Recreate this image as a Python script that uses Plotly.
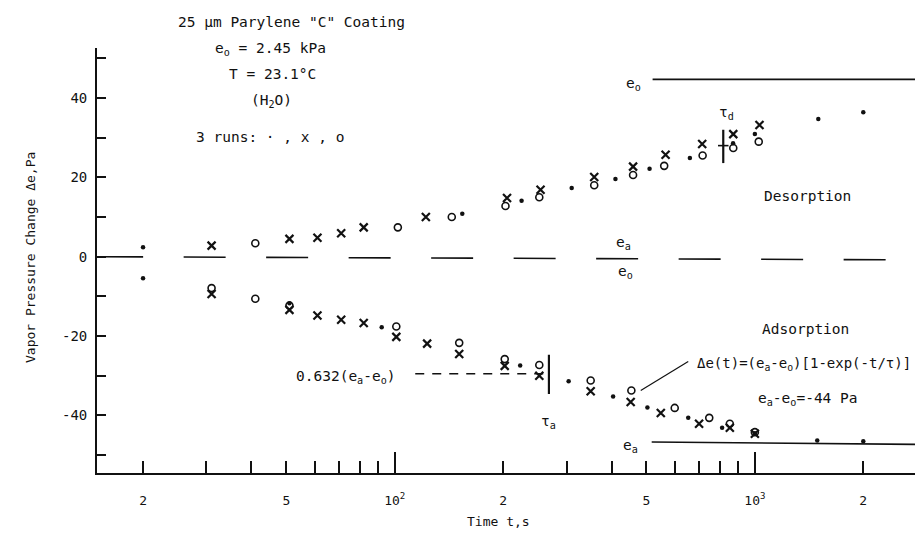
import numpy as np
import plotly.graph_objects as go

# ---------------- data ----------------
# Desorption runs (Delta e, Pa) vs time t (s)
des_dot_t = [20, 154, 225, 310, 410, 510, 660, 870, 1000, 1500, 2000]
des_dot_v = [2.4, 10.8, 14.1, 17.3, 19.6, 22.2, 24.9, 28.6, 30.9, 34.7, 36.4]
des_x_t = [31, 51, 61, 71, 82, 122, 205, 254, 358, 459, 565, 714, 871, 1030]
des_x_v = [2.8, 4.5, 4.8, 5.9, 7.4, 10.0, 14.8, 16.9, 20.1, 22.7, 25.7, 28.4, 30.9, 33.2]
des_o_t = [41, 102, 144, 203, 252, 358, 459, 560, 716, 871, 1025]
des_o_v = [3.4, 7.4, 10.0, 12.8, 15.0, 18.0, 20.6, 22.9, 25.5, 27.4, 29.0]

# Adsorption runs
ads_dot_t = [20, 51, 92, 223, 304, 404, 503, 653, 811, 1000, 1490, 2000]
ads_dot_v = [-5.4, -11.7, -17.8, -27.4, -31.4, -35.2, -38.0, -40.6, -43.1, -44.5, -46.3, -46.5]
ads_x_t = [31, 51, 61, 71, 82, 101, 123, 151, 202, 252, 350, 452, 548, 700, 852, 1000]
ads_x_v = [-9.4, -13.4, -14.8, -15.9, -16.7, -20.2, -21.9, -24.5, -27.5, -30.0, -33.9, -36.6, -39.4, -42.1, -43.1, -44.6]
ads_o_t = [31, 41, 51, 101, 151, 202, 252, 350, 454, 599, 747, 852, 1000]
ads_o_v = [-7.9, -10.6, -12.3, -17.6, -21.7, -25.8, -27.3, -31.2, -33.7, -38.1, -40.6, -42.1, -44.2]

# Reference levels
eo_t = [520, 3000]
eo_v = [44.7, 44.7]
ea_t = [517, 3000]
ea_v = [-46.7, -47.3]
zero_t = [15.3, 3000]
zero_v = [0.0, -0.8]
frac_t = [114, 268]          # 0.632(ea-eo) dashed guide
frac_v = [-29.5, -29.5]
tau_a_t = [268, 268]
tau_a_v = [-24.7, -34.6]
tau_d_t = [817, 817]
tau_d_v = [23.6, 32.0]
tau_d_bar_t = [790, 845]
tau_d_bar_v = [28.0, 28.0]
leader_t = [482, 653]
leader_v = [-33.7, -26.4]

# axis ticks
x_tickvals = [20, 30, 40, 50, 60, 70, 80, 90, 100, 200, 300, 400, 500, 600, 700, 800, 900, 1000, 2000, 3000]
x_ticktext = ["2", "", "", "5", "", "", "", "", "10<sup>2</sup>", "2", "", "", "5", "", "", "", "", "10<sup>3</sup>", "2", ""]
x_major = [100, 1000]
y_tickvals = [-50, -40, -30, -20, -10, 0, 10, 20, 30, 40, 50]
y_ticktext = ["", "-40", "", "-20", "", "0", "", "20", "", "40", ""]

# ---------------- figure ----------------
FONT = "DejaVu Sans Mono"
INK = "#111111"
OFF = 8                       # page body margin
W, H = 923 - OFF, 536 - OFF
L, R, T, B = 97 - OFF, 0, 48 - OFF, 536 - 473

fig = go.Figure()

def line(t, v, width=1.6, dash="solid"):
    fig.add_trace(go.Scatter(x=t, y=v, mode="lines", line=dict(color=INK, width=width, dash=dash),
                             hoverinfo="skip", showlegend=False))

line(zero_t, zero_v, 1.6, "42px,40.5px")
line(eo_t, eo_v, 1.6)
line(ea_t, ea_v, 1.6)
line(frac_t, frac_v, 1.4, "9px,8px")
line(tau_a_t, tau_a_v, 2.2)
line(tau_d_t, tau_d_v, 2.2)
line(tau_d_bar_t, tau_d_bar_v, 1.6)
line(leader_t, leader_v, 1.2)

def pts(t, v, symbol, size, lw):
    fig.add_trace(go.Scatter(x=t, y=v, mode="markers",
                             marker=dict(symbol=symbol, size=size, color=INK,
                                         line=dict(color=INK, width=lw)),
                             showlegend=False))

for t, v in [(des_dot_t, des_dot_v), (ads_dot_t, ads_dot_v)]:
    pts(t, v, "circle", 4.5, 0)
for t, v in [(des_x_t, des_x_v), (ads_x_t, ads_x_v)]:
    pts(t, v, "x-thin", 8, 2.2)
for t, v in [(des_o_t, des_o_v), (ads_o_t, ads_o_v)]:
    pts(t, v, "circle-open", 7, 1.6)

# invisible trace on overlay axis that carries the long decade ticks
fig.add_trace(go.Scatter(x=[100], y=[0], xaxis="x2", mode="markers",
                         marker=dict(opacity=0), hoverinfo="skip", showlegend=False))

xr = [np.log10(14.9), np.log10(2930)]
yr = [-54.5, 52.6]

fig.update_layout(
    width=W, height=H,
    margin=dict(l=L, r=R, t=T, b=B, autoexpand=False),
    paper_bgcolor="white", plot_bgcolor="white",
    font=dict(family=FONT, size=14, color=INK),
    xaxis=dict(type="log", range=xr, showgrid=False, zeroline=False, automargin=False,
               showline=True, linecolor=INK, linewidth=1.8,
               ticks="inside", ticklen=12, tickwidth=1.5, tickcolor=INK,
               tickmode="array", tickvals=x_tickvals, ticktext=x_ticktext,
               tickfont=dict(family=FONT, size=13), ticklabelstandoff=14),
    xaxis2=dict(type="log", range=xr, overlaying="x", anchor="y", side="bottom", automargin=False,
                showgrid=False, zeroline=False, showline=False,
                ticks="inside", ticklen=21, tickwidth=1.5, tickcolor=INK,
                tickmode="array", tickvals=x_major, showticklabels=False),
    yaxis=dict(range=yr, showgrid=False, zeroline=False, automargin=False,
               showline=True, linecolor=INK, linewidth=1.8,
               ticks="inside", ticklen=9, tickwidth=1.5, tickcolor=INK,
               tickmode="array", tickvals=y_tickvals, ticktext=y_ticktext,
               tickfont=dict(family=FONT, size=14), ticklabelstandoff=5),
)

PW, PH = W - L - R, H - T - B

def txt(px, py, text, size=14, xanchor="center", angle=0):
    # px, py are screen pixel positions; the figure sits OFF px inside the page
    fx, fy = px - OFF, py - OFF
    fig.add_annotation(x=(fx - L) / PW, y=(H - B - fy) / PH, xref="paper", yref="paper",
                       text=text, showarrow=False, xanchor=xanchor, yanchor="middle",
                       textangle=angle, font=dict(family=FONT, size=size, color=INK))

# axis titles
txt(498, 521, "Time t,s", 13)
txt(30, 258, "Vapor Pressure Change \u0394e,Pa", 13, angle=-90)

txt(291, 22, '25 \u03bcm Parylene "C" Coating', 14.5)
txt(270, 49, "e<sub>o</sub> = 2.45 kPa", 14.5)
txt(272, 74, "T = 23.1\u00b0C", 14.5)
txt(271, 101, "(H<sub>2</sub>O)", 14.5)
txt(270, 137, "3 runs: \u00b7 , x , o", 14.5)

txt(633, 84, "e<sub>o</sub>", 14.5)
txt(726, 113, "\u03c4<sub>d</sub>", 14.5)
txt(807, 196, "Desorption", 14.5)
txt(623, 243, "e<sub>a</sub>", 14.5)
txt(625, 272, "e<sub>o</sub>", 14.5)
txt(805, 329, "Adsorption", 14.5)
txt(695, 364, "\u0394e(t)=(e<sub>a</sub>-e<sub>o</sub>)[1-exp(-t/\u03c4)]", 14, "left")
txt(808, 399, "e<sub>a</sub>-e<sub>o</sub>=-44 Pa", 14.5)
txt(548, 422, "\u03c4<sub>a</sub>", 14.5)
txt(630, 446, "e<sub>a</sub>", 14.5)
txt(346, 377, "0.632(e<sub>a</sub>-e<sub>o</sub>)", 14.5)

fig.write_html("out.html")
